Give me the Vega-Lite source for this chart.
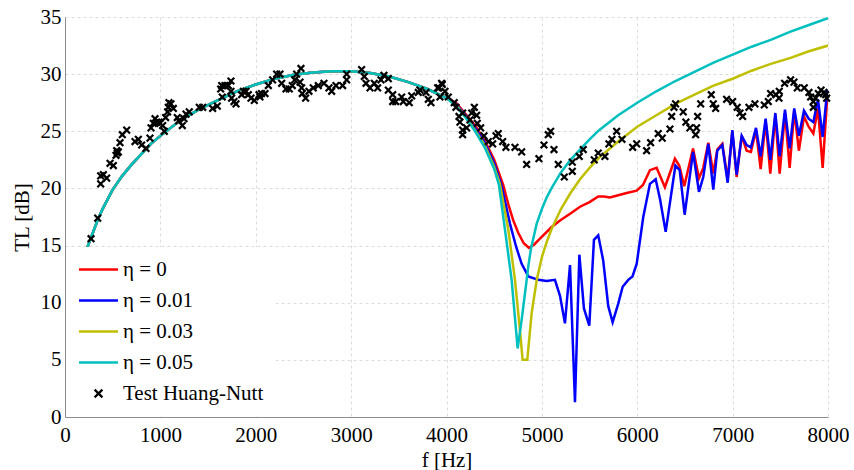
{
"$schema": "https://vega.github.io/schema/vega-lite/v6.json",
"width": 763, "height": 400,
"autosize": {"type": "none"},
"padding": {"left": 65, "top": 17, "right": 26, "bottom": 53},
"background": "white",
"config": {"view": {"stroke": null}},
"datasets": {
"lines": [
{"s":"η = 0","f":200,"TL":14.0},{"s":"η = 0","f":250,"TL":15.2},{"s":"η = 0","f":300,"TL":16.3},{"s":"η = 0","f":350,"TL":17.4},{"s":"η = 0","f":400,"TL":18.3},{"s":"η = 0","f":500,"TL":19.9},{"s":"η = 0","f":600,"TL":21.1},{"s":"η = 0","f":700,"TL":22.1},{"s":"η = 0","f":800,"TL":23.0},{"s":"η = 0","f":900,"TL":23.9},{"s":"η = 0","f":1000,"TL":24.6},{"s":"η = 0","f":1200,"TL":25.9},{"s":"η = 0","f":1400,"TL":26.9},{"s":"η = 0","f":1600,"TL":27.7},{"s":"η = 0","f":1800,"TL":28.5},{"s":"η = 0","f":2000,"TL":29.1},{"s":"η = 0","f":2200,"TL":29.6},{"s":"η = 0","f":2400,"TL":29.95},{"s":"η = 0","f":2600,"TL":30.15},{"s":"η = 0","f":2800,"TL":30.25},{"s":"η = 0","f":3000,"TL":30.25},{"s":"η = 0","f":3200,"TL":30.1},{"s":"η = 0","f":3400,"TL":29.8},{"s":"η = 0","f":3600,"TL":29.3},{"s":"η = 0","f":3800,"TL":28.7},{"s":"η = 0","f":4000,"TL":27.9},
{"s":"η = 0","f":4100,"TL":27.5},{"s":"η = 0","f":4200,"TL":26.5},{"s":"η = 0","f":4300,"TL":25.5},{"s":"η = 0","f":4400,"TL":24.2},{"s":"η = 0","f":4500,"TL":22.5},{"s":"η = 0","f":4595,"TL":20.3},{"s":"η = 0","f":4648,"TL":18.6},{"s":"η = 0","f":4700,"TL":17.2},{"s":"η = 0","f":4753,"TL":16.1},{"s":"η = 0","f":4810,"TL":15.2},{"s":"η = 0","f":4865,"TL":14.8},{"s":"η = 0","f":4920,"TL":15.1},{"s":"η = 0","f":4980,"TL":15.6},{"s":"η = 0","f":5100,"TL":16.6},{"s":"η = 0","f":5190,"TL":17.2},{"s":"η = 0","f":5300,"TL":17.8},{"s":"η = 0","f":5400,"TL":18.4},{"s":"η = 0","f":5500,"TL":18.8},{"s":"η = 0","f":5591,"TL":19.3},{"s":"η = 0","f":5650,"TL":19.3},{"s":"η = 0","f":5714,"TL":19.2},{"s":"η = 0","f":5800,"TL":19.4},{"s":"η = 0","f":5889,"TL":19.6},{"s":"η = 0","f":5994,"TL":19.8},{"s":"η = 0","f":6060,"TL":20.3},{"s":"η = 0","f":6133,"TL":21.6},{"s":"η = 0","f":6203,"TL":21.8},{"s":"η = 0","f":6290,"TL":20.1},{"s":"η = 0","f":6395,"TL":22.6},{"s":"η = 0","f":6440,"TL":22.0},{"s":"η = 0","f":6493,"TL":20.2},{"s":"η = 0","f":6585,"TL":23.5},{"s":"η = 0","f":6647,"TL":20.9},{"s":"η = 0","f":6692,"TL":21.8},{"s":"η = 0","f":6745,"TL":24.0},{"s":"η = 0","f":6797,"TL":21.3},{"s":"η = 0","f":6839,"TL":23.4},{"s":"η = 0","f":6892,"TL":23.9},{"s":"η = 0","f":6948,"TL":20.8},{"s":"η = 0","f":6997,"TL":25.0},{"s":"η = 0","f":7042,"TL":21.0},{"s":"η = 0","f":7095,"TL":24.6},{"s":"η = 0","f":7147,"TL":23.3},{"s":"η = 0","f":7192,"TL":23.2},{"s":"η = 0","f":7245,"TL":25.1},{"s":"η = 0","f":7294,"TL":21.7},{"s":"η = 0","f":7346,"TL":25.9},{"s":"η = 0","f":7395,"TL":21.3},{"s":"η = 0","f":7448,"TL":26.4},{"s":"η = 0","f":7493,"TL":21.3},{"s":"η = 0","f":7549,"TL":26.6},{"s":"η = 0","f":7598,"TL":21.8},{"s":"η = 0","f":7646,"TL":26.8},{"s":"η = 0","f":7695,"TL":23.3},{"s":"η = 0","f":7748,"TL":26.3},{"s":"η = 0","f":7797,"TL":25.4},{"s":"η = 0","f":7846,"TL":24.8},{"s":"η = 0","f":7895,"TL":27.0},{"s":"η = 0","f":7944,"TL":21.8},{"s":"η = 0","f":7992,"TL":28.0},
{"s":"η = 0.01","f":200,"TL":14.0},{"s":"η = 0.01","f":250,"TL":15.2},{"s":"η = 0.01","f":300,"TL":16.3},{"s":"η = 0.01","f":350,"TL":17.4},{"s":"η = 0.01","f":400,"TL":18.3},{"s":"η = 0.01","f":500,"TL":19.9},{"s":"η = 0.01","f":600,"TL":21.1},{"s":"η = 0.01","f":700,"TL":22.1},{"s":"η = 0.01","f":800,"TL":23.0},{"s":"η = 0.01","f":900,"TL":23.9},{"s":"η = 0.01","f":1000,"TL":24.6},{"s":"η = 0.01","f":1200,"TL":25.9},{"s":"η = 0.01","f":1400,"TL":26.9},{"s":"η = 0.01","f":1600,"TL":27.7},{"s":"η = 0.01","f":1800,"TL":28.5},{"s":"η = 0.01","f":2000,"TL":29.1},{"s":"η = 0.01","f":2200,"TL":29.6},{"s":"η = 0.01","f":2400,"TL":29.95},{"s":"η = 0.01","f":2600,"TL":30.15},{"s":"η = 0.01","f":2800,"TL":30.25},{"s":"η = 0.01","f":3000,"TL":30.25},{"s":"η = 0.01","f":3200,"TL":30.1},{"s":"η = 0.01","f":3400,"TL":29.8},{"s":"η = 0.01","f":3600,"TL":29.3},{"s":"η = 0.01","f":3800,"TL":28.7},{"s":"η = 0.01","f":4000,"TL":27.9},
{"s":"η = 0.01","f":4100,"TL":27.4},{"s":"η = 0.01","f":4200,"TL":26.4},{"s":"η = 0.01","f":4300,"TL":25.3},{"s":"η = 0.01","f":4400,"TL":24.0},{"s":"η = 0.01","f":4500,"TL":22.2},{"s":"η = 0.01","f":4575,"TL":20.3},{"s":"η = 0.01","f":4666,"TL":16.9},{"s":"η = 0.01","f":4730,"TL":14.9},{"s":"η = 0.01","f":4788,"TL":13.4},{"s":"η = 0.01","f":4858,"TL":12.3},{"s":"η = 0.01","f":4963,"TL":12.0},{"s":"η = 0.01","f":5050,"TL":11.9},{"s":"η = 0.01","f":5137,"TL":12.0},{"s":"η = 0.01","f":5190,"TL":10.6},{"s":"η = 0.01","f":5242,"TL":8.2},{"s":"η = 0.01","f":5295,"TL":13.3},{"s":"η = 0.01","f":5347,"TL":1.3},{"s":"η = 0.01","f":5393,"TL":14.2},{"s":"η = 0.01","f":5441,"TL":9.5},{"s":"η = 0.01","f":5497,"TL":8.0},{"s":"η = 0.01","f":5546,"TL":15.5},{"s":"η = 0.01","f":5591,"TL":15.9},{"s":"η = 0.01","f":5643,"TL":13.7},{"s":"η = 0.01","f":5696,"TL":9.7},{"s":"η = 0.01","f":5742,"TL":8.3},{"s":"η = 0.01","f":5800,"TL":9.9},{"s":"η = 0.01","f":5847,"TL":11.4},{"s":"η = 0.01","f":5906,"TL":12.0},{"s":"η = 0.01","f":5950,"TL":12.3},{"s":"η = 0.01","f":5994,"TL":13.4},{"s":"η = 0.01","f":6063,"TL":17.5},{"s":"η = 0.01","f":6133,"TL":20.4},{"s":"η = 0.01","f":6193,"TL":20.8},{"s":"η = 0.01","f":6240,"TL":19.0},{"s":"η = 0.01","f":6298,"TL":16.2},{"s":"η = 0.01","f":6400,"TL":22.0},{"s":"η = 0.01","f":6445,"TL":21.6},{"s":"η = 0.01","f":6497,"TL":17.7},{"s":"η = 0.01","f":6585,"TL":23.2},{"s":"η = 0.01","f":6647,"TL":19.7},{"s":"η = 0.01","f":6692,"TL":21.0},{"s":"η = 0.01","f":6745,"TL":23.9},{"s":"η = 0.01","f":6797,"TL":19.9},{"s":"η = 0.01","f":6839,"TL":23.3},{"s":"η = 0.01","f":6892,"TL":23.8},{"s":"η = 0.01","f":6948,"TL":20.5},{"s":"η = 0.01","f":6997,"TL":25.1},{"s":"η = 0.01","f":7042,"TL":21.2},{"s":"η = 0.01","f":7095,"TL":24.6},{"s":"η = 0.01","f":7147,"TL":23.8},{"s":"η = 0.01","f":7192,"TL":23.6},{"s":"η = 0.01","f":7245,"TL":25.3},{"s":"η = 0.01","f":7294,"TL":22.8},{"s":"η = 0.01","f":7346,"TL":26.1},{"s":"η = 0.01","f":7395,"TL":22.5},{"s":"η = 0.01","f":7448,"TL":26.6},{"s":"η = 0.01","f":7493,"TL":22.8},{"s":"η = 0.01","f":7549,"TL":26.9},{"s":"η = 0.01","f":7598,"TL":23.5},{"s":"η = 0.01","f":7646,"TL":27.0},{"s":"η = 0.01","f":7695,"TL":24.6},{"s":"η = 0.01","f":7748,"TL":26.8},{"s":"η = 0.01","f":7797,"TL":26.1},{"s":"η = 0.01","f":7846,"TL":25.8},{"s":"η = 0.01","f":7895,"TL":27.8},{"s":"η = 0.01","f":7944,"TL":24.5},{"s":"η = 0.01","f":7992,"TL":28.6},
{"s":"η = 0.03","f":200,"TL":14.0},{"s":"η = 0.03","f":250,"TL":15.2},{"s":"η = 0.03","f":300,"TL":16.3},{"s":"η = 0.03","f":350,"TL":17.4},{"s":"η = 0.03","f":400,"TL":18.3},{"s":"η = 0.03","f":500,"TL":19.9},{"s":"η = 0.03","f":600,"TL":21.1},{"s":"η = 0.03","f":700,"TL":22.1},{"s":"η = 0.03","f":800,"TL":23.0},{"s":"η = 0.03","f":900,"TL":23.9},{"s":"η = 0.03","f":1000,"TL":24.6},{"s":"η = 0.03","f":1200,"TL":25.9},{"s":"η = 0.03","f":1400,"TL":26.9},{"s":"η = 0.03","f":1600,"TL":27.7},{"s":"η = 0.03","f":1800,"TL":28.5},{"s":"η = 0.03","f":2000,"TL":29.1},{"s":"η = 0.03","f":2200,"TL":29.6},{"s":"η = 0.03","f":2400,"TL":29.95},{"s":"η = 0.03","f":2600,"TL":30.15},{"s":"η = 0.03","f":2800,"TL":30.25},{"s":"η = 0.03","f":3000,"TL":30.25},{"s":"η = 0.03","f":3200,"TL":30.1},{"s":"η = 0.03","f":3400,"TL":29.8},{"s":"η = 0.03","f":3600,"TL":29.3},{"s":"η = 0.03","f":3800,"TL":28.7},{"s":"η = 0.03","f":4000,"TL":27.9},
{"s":"η = 0.03","f":4100,"TL":27.3},{"s":"η = 0.03","f":4200,"TL":26.3},{"s":"η = 0.03","f":4300,"TL":25.1},{"s":"η = 0.03","f":4400,"TL":23.8},{"s":"η = 0.03","f":4500,"TL":21.9},{"s":"η = 0.03","f":4560,"TL":20.4},{"s":"η = 0.03","f":4648,"TL":16.4},{"s":"η = 0.03","f":4718,"TL":12.0},{"s":"η = 0.03","f":4770,"TL":7.6},{"s":"η = 0.03","f":4798,"TL":5.0},{"s":"η = 0.03","f":4847,"TL":5.0},{"s":"η = 0.03","f":4893,"TL":9.1},{"s":"η = 0.03","f":4946,"TL":12.0},{"s":"η = 0.03","f":5000,"TL":14.0},{"s":"η = 0.03","f":5050,"TL":15.3},{"s":"η = 0.03","f":5100,"TL":16.4},{"s":"η = 0.03","f":5200,"TL":18.2},{"s":"η = 0.03","f":5300,"TL":19.6},{"s":"η = 0.03","f":5400,"TL":20.8},{"s":"η = 0.03","f":5500,"TL":21.8},{"s":"η = 0.03","f":5600,"TL":22.7},{"s":"η = 0.03","f":5800,"TL":24.1},{"s":"η = 0.03","f":6000,"TL":25.4},{"s":"η = 0.03","f":6200,"TL":26.4},{"s":"η = 0.03","f":6400,"TL":27.4},{"s":"η = 0.03","f":6600,"TL":28.2},{"s":"η = 0.03","f":6800,"TL":29.0},{"s":"η = 0.03","f":7000,"TL":29.6},{"s":"η = 0.03","f":7200,"TL":30.3},{"s":"η = 0.03","f":7400,"TL":30.9},{"s":"η = 0.03","f":7600,"TL":31.4},{"s":"η = 0.03","f":7800,"TL":32.0},{"s":"η = 0.03","f":8000,"TL":32.5},
{"s":"η = 0.05","f":200,"TL":14.0},{"s":"η = 0.05","f":250,"TL":15.2},{"s":"η = 0.05","f":300,"TL":16.3},{"s":"η = 0.05","f":350,"TL":17.4},{"s":"η = 0.05","f":400,"TL":18.3},{"s":"η = 0.05","f":500,"TL":19.9},{"s":"η = 0.05","f":600,"TL":21.1},{"s":"η = 0.05","f":700,"TL":22.1},{"s":"η = 0.05","f":800,"TL":23.0},{"s":"η = 0.05","f":900,"TL":23.9},{"s":"η = 0.05","f":1000,"TL":24.6},{"s":"η = 0.05","f":1200,"TL":25.9},{"s":"η = 0.05","f":1400,"TL":26.9},{"s":"η = 0.05","f":1600,"TL":27.7},{"s":"η = 0.05","f":1800,"TL":28.5},{"s":"η = 0.05","f":2000,"TL":29.1},{"s":"η = 0.05","f":2200,"TL":29.6},{"s":"η = 0.05","f":2400,"TL":29.95},{"s":"η = 0.05","f":2600,"TL":30.15},{"s":"η = 0.05","f":2800,"TL":30.25},{"s":"η = 0.05","f":3000,"TL":30.25},{"s":"η = 0.05","f":3200,"TL":30.1},{"s":"η = 0.05","f":3400,"TL":29.8},{"s":"η = 0.05","f":3600,"TL":29.3},{"s":"η = 0.05","f":3800,"TL":28.7},{"s":"η = 0.05","f":4000,"TL":27.9},
{"s":"η = 0.05","f":4100,"TL":27.2},{"s":"η = 0.05","f":4200,"TL":26.2},{"s":"η = 0.05","f":4300,"TL":25.0},{"s":"η = 0.05","f":4400,"TL":23.6},{"s":"η = 0.05","f":4500,"TL":21.7},{"s":"η = 0.05","f":4550,"TL":20.3},{"s":"η = 0.05","f":4613,"TL":16.4},{"s":"η = 0.05","f":4683,"TL":12.0},{"s":"η = 0.05","f":4729,"TL":7.6},{"s":"η = 0.05","f":4746,"TL":6.0},{"s":"η = 0.05","f":4788,"TL":8.5},{"s":"η = 0.05","f":4830,"TL":11.3},{"s":"η = 0.05","f":4858,"TL":13.2},{"s":"η = 0.05","f":4885,"TL":14.7},{"s":"η = 0.05","f":4945,"TL":16.9},{"s":"η = 0.05","f":5000,"TL":18.2},{"s":"η = 0.05","f":5050,"TL":19.2},{"s":"η = 0.05","f":5100,"TL":20.0},{"s":"η = 0.05","f":5200,"TL":21.4},{"s":"η = 0.05","f":5300,"TL":22.5},{"s":"η = 0.05","f":5400,"TL":23.4},{"s":"η = 0.05","f":5500,"TL":24.3},{"s":"η = 0.05","f":5600,"TL":25.1},{"s":"η = 0.05","f":5800,"TL":26.4},{"s":"η = 0.05","f":6000,"TL":27.5},{"s":"η = 0.05","f":6200,"TL":28.5},{"s":"η = 0.05","f":6400,"TL":29.4},{"s":"η = 0.05","f":6600,"TL":30.2},{"s":"η = 0.05","f":6800,"TL":31.0},{"s":"η = 0.05","f":7000,"TL":31.7},{"s":"η = 0.05","f":7200,"TL":32.4},{"s":"η = 0.05","f":7400,"TL":33.0},{"s":"η = 0.05","f":7600,"TL":33.7},{"s":"η = 0.05","f":7800,"TL":34.3},{"s":"η = 0.05","f":8000,"TL":34.9}
],
"test": [
{"f":210,"TL":14.4},{"f":273,"TL":15.6},{"f":343,"TL":17.4},{"f":374,"TL":20.4},{"f":374,"TL":21.1},{"f":402,"TL":21.2},{"f":437,"TL":20.9},{"f":472,"TL":22.2},{"f":507,"TL":22.0},{"f":535,"TL":22.9},{"f":542,"TL":23.3},{"f":549,"TL":23.1},{"f":559,"TL":23.2},{"f":577,"TL":24.0},{"f":601,"TL":24.7},{"f":647,"TL":25.1},{"f":734,"TL":24.1},{"f":769,"TL":24.3},{"f":804,"TL":23.8},{"f":849,"TL":23.5},{"f":891,"TL":24.4},{"f":902,"TL":25.3},{"f":926,"TL":25.7},{"f":944,"TL":26.1},{"f":961,"TL":25.8},{"f":986,"TL":25.8},{"f":996,"TL":25.7},{"f":1024,"TL":25.5},{"f":1041,"TL":25.0},{"f":1055,"TL":26.2},{"f":1076,"TL":26.7},{"f":1083,"TL":27.1},{"f":1090,"TL":27.5},{"f":1111,"TL":27.4},{"f":1136,"TL":27.0},{"f":1177,"TL":26.2},{"f":1192,"TL":25.9},{"f":1230,"TL":25.5},{"f":1248,"TL":26.1},{"f":1269,"TL":26.5},{"f":1303,"TL":26.7},{"f":1408,"TL":27.1},{"f":1444,"TL":27.1},{"f":1548,"TL":27.0},{"f":1597,"TL":27.2},{"f":1632,"TL":28.7},{"f":1643,"TL":29.0},{"f":1649,"TL":28.0},{"f":1677,"TL":29.0},{"f":1712,"TL":29.0},{"f":1740,"TL":29.4},{"f":1740,"TL":28.5},{"f":1747,"TL":27.9},{"f":1772,"TL":27.6},{"f":1793,"TL":27.4},{"f":1852,"TL":28.2},{"f":1870,"TL":28.5},{"f":1898,"TL":28.5},{"f":1922,"TL":28.2},{"f":1950,"TL":27.9},{"f":1985,"TL":27.7},{"f":2034,"TL":28.2},{"f":2044,"TL":28.0},{"f":2060,"TL":28.3},{"f":2097,"TL":28.3},{"f":2132,"TL":29.0},{"f":2177,"TL":29.5},{"f":2219,"TL":30.0},{"f":2254,"TL":30.0},{"f":2272,"TL":29.2},{"f":2317,"TL":28.7},{"f":2352,"TL":28.7},{"f":2383,"TL":29.0},{"f":2408,"TL":29.5},{"f":2429,"TL":30.0},{"f":2474,"TL":30.5},{"f":2464,"TL":29.3},{"f":2481,"TL":28.8},{"f":2488,"TL":28.3},{"f":2523,"TL":27.9},{"f":2558,"TL":28.5},{"f":2603,"TL":28.8},{"f":2656,"TL":29.0},{"f":2715,"TL":29.2},{"f":2768,"TL":28.8},{"f":2796,"TL":28.5},{"f":2841,"TL":29.0},{"f":2911,"TL":29.0},{"f":2953,"TL":29.5},{"f":2953,"TL":30.0},{"f":3110,"TL":30.4},{"f":3138,"TL":29.8},{"f":3156,"TL":29.2},{"f":3198,"TL":28.8},{"f":3243,"TL":29.2},{"f":3278,"TL":28.8},{"f":3313,"TL":29.5},{"f":3344,"TL":29.9},{"f":3390,"TL":29.6},{"f":3390,"TL":28.6},{"f":3436,"TL":28.2},{"f":3436,"TL":27.6},{"f":3467,"TL":27.6},{"f":3530,"TL":28.0},{"f":3547,"TL":27.6},{"f":3610,"TL":27.5},{"f":3635,"TL":28.1},{"f":3704,"TL":28.4},{"f":3722,"TL":28.6},{"f":3785,"TL":28.4},{"f":3809,"TL":27.8},{"f":3837,"TL":27.5},{"f":3907,"TL":28.8},{"f":3921,"TL":28.8},{"f":3949,"TL":29.2},{"f":3956,"TL":29.1},{"f":3931,"TL":28.0},{"f":3984,"TL":28.5},{"f":4019,"TL":28.0},{"f":4081,"TL":27.5},{"f":4099,"TL":27.1},{"f":4131,"TL":26.3},{"f":4141,"TL":25.8},{"f":4169,"TL":26.6},{"f":4169,"TL":25.1},{"f":4169,"TL":24.7},{"f":4211,"TL":25.3},{"f":4246,"TL":26.0},{"f":4264,"TL":26.6},{"f":4292,"TL":27.1},{"f":4316,"TL":26.4},{"f":4323,"TL":25.7},{"f":4358,"TL":25.3},{"f":4393,"TL":24.6},{"f":4438,"TL":24.1},{"f":4484,"TL":23.9},{"f":4519,"TL":24.6},{"f":4543,"TL":24.8},{"f":4589,"TL":24.1},{"f":4623,"TL":23.6},{"f":4718,"TL":23.6},{"f":4788,"TL":23.2},{"f":4840,"TL":22.1},{"f":4969,"TL":22.6},{"f":5022,"TL":23.8},{"f":5067,"TL":24.7},{"f":5092,"TL":25.0},{"f":5127,"TL":23.4},{"f":5172,"TL":22.1},{"f":5235,"TL":21.0},{"f":5319,"TL":21.5},{"f":5319,"TL":22.3},{"f":5392,"TL":22.8},{"f":5434,"TL":23.4},{"f":5549,"TL":22.5},{"f":5591,"TL":23.1},{"f":5661,"TL":22.8},{"f":5703,"TL":23.9},{"f":5735,"TL":24.3},{"f":5784,"TL":25.0},{"f":5840,"TL":24.3},{"f":5952,"TL":23.6},{"f":5994,"TL":23.9},{"f":6098,"TL":23.3},{"f":6140,"TL":24.0},{"f":6220,"TL":24.8},{"f":6262,"TL":24.4},{"f":6343,"TL":25.2},{"f":6361,"TL":26.3},{"f":6385,"TL":27.1},{"f":6402,"TL":27.4},{"f":6482,"TL":26.7},{"f":6510,"TL":25.8},{"f":6552,"TL":25.3},{"f":6622,"TL":25.3},{"f":6612,"TL":24.7},{"f":6633,"TL":26.3},{"f":6665,"TL":27.4},{"f":6776,"TL":28.2},{"f":6797,"TL":27.4},{"f":6822,"TL":27.0},{"f":6937,"TL":27.8},{"f":7000,"TL":27.6},{"f":7048,"TL":27.1},{"f":7077,"TL":26.6},{"f":7105,"TL":26.3},{"f":7171,"TL":27.1},{"f":7234,"TL":27.4},{"f":7332,"TL":27.3},{"f":7374,"TL":27.6},{"f":7398,"TL":28.3},{"f":7454,"TL":28.2},{"f":7489,"TL":28.5},{"f":7486,"TL":27.9},{"f":7545,"TL":29.2},{"f":7608,"TL":29.5},{"f":7643,"TL":29.3},{"f":7678,"TL":28.8},{"f":7751,"TL":28.8},{"f":7800,"TL":28.4},{"f":7818,"TL":28.0},{"f":7846,"TL":27.6},{"f":7846,"TL":27.1},{"f":7871,"TL":27.9},{"f":7899,"TL":28.3},{"f":7927,"TL":28.6},{"f":7958,"TL":28.4},{"f":7986,"TL":27.9},{"f":7975,"TL":28.2}
]
},
"layer": [
{
"data": {"name": "lines"},
"mark": {"type": "line", "strokeWidth": 2.5, "clip": true},
"encoding": {
"x": {"field": "f", "type": "quantitative",
  "scale": {"domain": [0, 8000], "nice": false},
  "axis": {"title": "f [Hz]", "values": [0,1000,2000,3000,4000,5000,6000,7000,8000], "format": "d",
    "labelFont": "Liberation Serif", "labelFontSize": 21, "labelColor": "black", "labelFlush": false, "labelOverlap": false,
    "titleFont": "Liberation Serif", "titleFontSize": 21, "titleFontWeight": "normal", "titleColor": "black",
    "domainColor": "#8c8c8c", "grid": true, "gridColor": "#dcdcdc", "gridDash": [3, 3],
    "ticks": false, "labelPadding": 7, "titlePadding": 4}},
"y": {"field": "TL", "type": "quantitative",
  "scale": {"domain": [0, 35], "nice": false},
  "axis": {"title": "TL [dB]", "values": [0,5,10,15,20,25,30,35],
    "labelFont": "Liberation Serif", "labelFontSize": 21, "labelColor": "black", "labelFlush": false, "labelOverlap": false,
    "titleFont": "Liberation Serif", "titleFontSize": 21, "titleFontWeight": "normal", "titleColor": "black",
    "domainColor": "#8c8c8c", "grid": true, "gridColor": "#dcdcdc", "gridDash": [3, 3],
    "ticks": false, "labelPadding": 4, "titlePadding": 8}},
"color": {"field": "s", "type": "nominal",
  "scale": {"domain": ["η = 0", "η = 0.01", "η = 0.03", "η = 0.05", "Test Huang-Nutt"],
            "range": ["#ff0000", "#0000ff", "#bfbf00", "#00bfbf", "#000000"]},
  "legend": {"title": null, "orient": "bottom-left", "offset": 1, "padding": 12, "fillColor": "white",
    "symbolType": "stroke", "symbolSize": 1521, "symbolStrokeWidth": 2.5, "symbolOffset": 10,
    "labelFont": "Liberation Serif", "labelFontSize": 21, "labelColor": "black", "labelOffset": 14, "labelLimit": 400,
    "rowPadding": 9,
    "encode": {"symbols": {"update": {
      "shape": {"signal": "datum.label === 'Test Huang-Nutt' ? 'M-0.2,-0.2L0.2,0.2M-0.2,0.2L0.2,-0.2' : 'stroke'"},
      "strokeWidth": {"signal": "datum.label === 'Test Huang-Nutt' ? 2.2 : 2.5"}}}}}}
}
},
{
"data": {"name": "test"},
"mark": {"type": "point", "shape": "M-1,-1L1,1M-1,1L1,-1", "filled": false, "size": 44, "strokeWidth": 2.2, "color": "black", "opacity": 1},
"encoding": {
"x": {"field": "f", "type": "quantitative"},
"y": {"field": "TL", "type": "quantitative"}
}
}
]
}
